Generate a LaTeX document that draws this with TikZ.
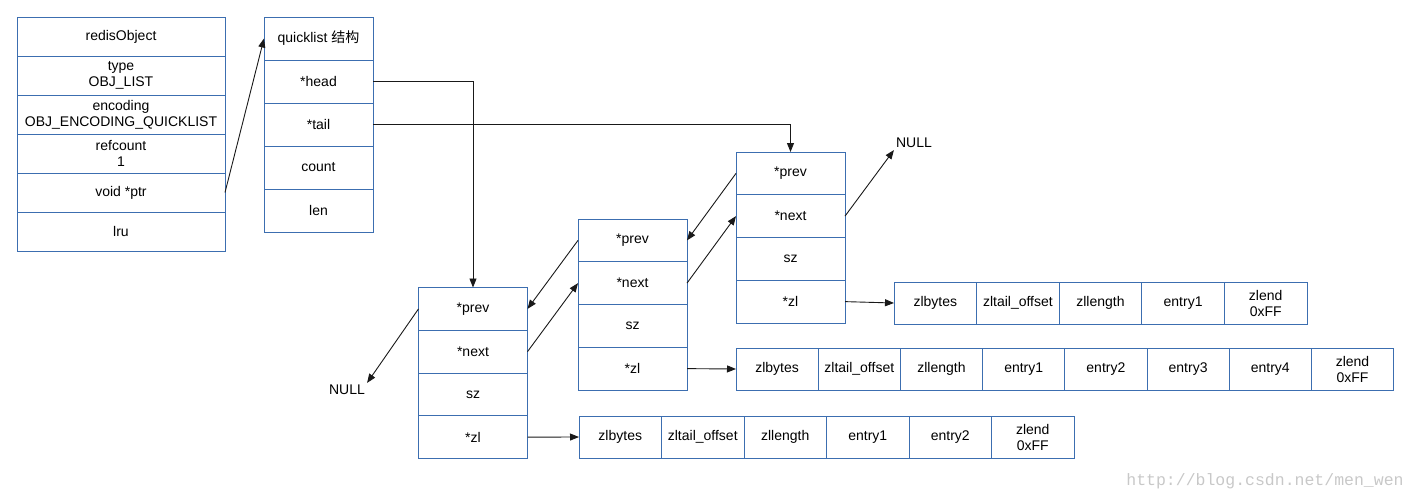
\documentclass[tikz,border=0pt]{standalone}
\usepackage{fontspec}
\setmainfont{Liberation Sans}
\newfontfamily\cjk{Noto Sans CJK SC}
\newfontfamily\wmfont{Liberation Mono}
\usetikzlibrary{arrows.meta,positioning}
\definecolor{cellblue}{RGB}{60,110,176}
\definecolor{wire}{RGB}{25,25,25}
\definecolor{wmgray}{RGB}{200,200,200}
\tikzset{
  >={Triangle[length=9pt,width=7pt]},
  cell/.style={draw=cellblue,line width=0.85pt,outer sep=0pt,inner sep=0pt,
    align=center,font=\fontsize{14}{16}\selectfont,minimum height=#1},
  cell/.default=42pt,
  link/.style={->,draw=wire,line width=0.9pt},
  tag/.style={font=\fontsize{14}{16}\selectfont,inner sep=2pt},
}

\begin{document}
\begin{tikzpicture}[x=1pt,y=-1pt]
  \useasboundingbox (0,0) rectangle (1417,501);
  % redisObject
  \foreach \t [count=\i] in {redisObject,{type\\OBJ\_LIST},{encoding\\OBJ\_ENCODING\_QUICKLIST},{refcount\\1},void *ptr,lru}
    \node[cell=39pt,minimum width=208pt] (ro\i) at (121,{36.5+39*(\i-1)}) {\t};
  % quicklist
  \foreach \t [count=\i] in {{quicklist {\cjk 结构}},*head,*tail,count,len}
    \node[cell=43pt,minimum width=109pt] (ql\i) at (318.5,{38.5+43*(\i-1)}) {\t};
  % quicklistNode
  \foreach \n/\x/\y in {a/473/287.5,b/632.5/219,c/790.5/152}
    \foreach \t [count=\i] in {*prev,*next,sz,*zl}
      \node[cell=42.75pt,minimum width=109pt] (n\n\i) at (\x,{\y+42.75*\i-21.375}) {\t};
  % ziplists
  \foreach \t [count=\i] in {zlbytes,zltail\_offset,zllength,entry1,entry2,{zlend\\0xFF}}
    \node[cell,minimum width=82.5pt] (za\i) at ({579+82.5*\i-41.25},437) {\t};
  \foreach \t [count=\i] in {zlbytes,zltail\_offset,zllength,entry1,entry2,entry3,entry4,{zlend\\0xFF}}
    \node[cell,minimum width=82.2pt] (zb\i) at ({736+82.2*\i-41.1},369) {\t};
  \foreach \t [count=\i] in {zlbytes,zltail\_offset,zllength,entry1,{zlend\\0xFF}}
    \node[cell,minimum width=82.6pt] (zc\i) at ({894+82.6*\i-41.3},303) {\t};
  \node[tag] (nulla) at (347,390) {NULL};
  \node[tag] (nullc) at (914,143) {NULL};

  \draw[link] (ro5.east) -- (ql1.west);
  \draw[link] (ql2.east) -| (na1.north);
  \draw[link] (ql3.east) -| (nc1.north);
  \draw[link] (na1.west) -- (nulla.north east);
  \draw[link] (na2.east) -- (nb2.west);
  \draw[link] (nb1.west) -- (na1.east);
  \draw[link] (nb2.east) -- (nc2.west);
  \draw[link] (nc1.west) -- (nb1.east);
  \draw[link] (nc2.east) -- (nullc.south west);
  \draw[link] (na4.east) -- (za1.west);
  \draw[link] (nb4.east) -- (zb1.west);
  \draw[link] (nc4.east) -- (zc1.west);

  \node[font=\wmfont\fontsize{16.5}{17}\selectfont,text=wmgray] (wm) at (1265,481) {http://blog.csdn.net/men\_wen};
\end{tikzpicture}
\end{document}
